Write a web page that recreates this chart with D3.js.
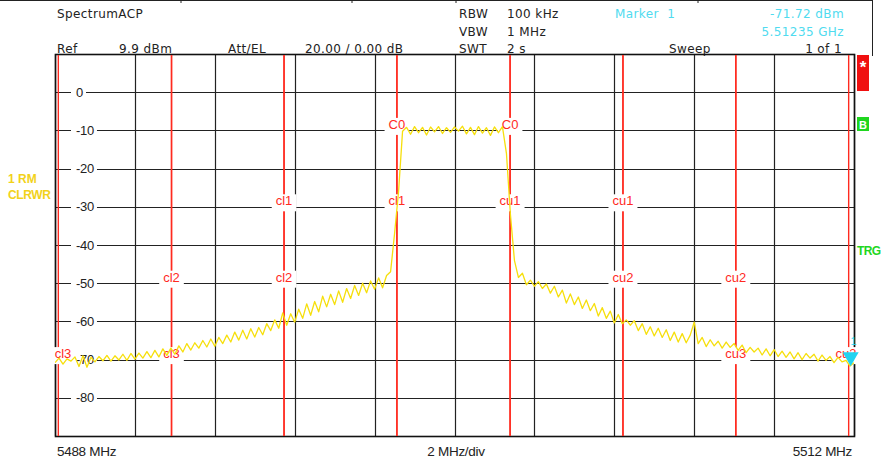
<!DOCTYPE html>
<html>
<head>
<meta charset="utf-8">
<script src="https://cdn.jsdelivr.net/npm/d3@7"></script>
<style>
  body { margin: 0; background: #fff; }
  .hdr { font-family: "DejaVu Sans", Verdana, sans-serif; font-size: 12px; letter-spacing: 0.4px; fill: #222; white-space: pre; }
  .lbl { font-family: "Liberation Sans", Arial, sans-serif; font-size: 13px; }
</style>
</head>
<body>
<div id="chart"></div>
<script>

/////////////////////////////
////////// data /////////////
/////////////////////////////

var spanStart = 5488, spanStop = 5512;       // MHz
var refLevel = 10, bottomLevel = -90;        // dB
var gridLevels = [0, -10, -20, -30, -40, -50, -60, -70, -80];
var gridDivs = 10;

// channel names, edges (MHz) and the grid row their labels sit on
var channelNames = ["cl3", "cl2", "cl1", "C0", "cu1", "cu2", "cu3"];
var channelLo    = [5488.10, 5491.50, 5494.88, 5498.27, 5501.67, 5505.06, 5508.45];
var channelHi    = [5491.50, 5494.88, 5498.27, 5501.67, 5505.06, 5508.45, 5511.84];
var channelRow   = [-70, -50, -30, -10, -30, -50, -70];

// sweep trace, 201 points from spanStart, 0.12 MHz apart (dBm)
var traceStep = 0.12;
var trace = [
  -70.8, -69.6, -71.2, -69.8, -70.4, -69.3, -71.8, -69.0, -72.0, -69.4,
  -70.6, -69.2, -70.3, -68.9, -70.4, -69.0, -70.1, -68.6, -70.2, -68.4,
  -69.9, -68.3, -69.6, -67.9, -69.5, -67.6, -69.3, -67.2, -68.9, -67.0,
  -68.6, -66.4, -68.0, -65.8, -67.5, -65.6, -67.0, -65.0, -66.7, -64.6,
  -66.5, -64.2, -65.8, -63.6, -65.4, -62.8, -64.9, -62.3, -64.6, -61.9,
  -64.1, -61.6, -63.5, -60.6, -62.4, -59.6, -61.8, -57.8, -61.0, -58.0,
  -60.2, -56.8, -59.2, -55.4, -58.4, -54.8, -57.5, -53.4, -56.2, -52.9,
  -55.6, -52.0, -55.0, -51.4, -54.0, -50.6, -53.2, -50.0, -52.5, -49.4,
  -51.6, -48.6, -51.2, -48.0, -47.0, -37.0, -26.0, -10.2, -9.2, -11.0,
  -9.0, -10.6, -9.2, -11.2, -9.1, -10.4, -9.0, -10.8, -9.3, -10.5,
  -9.1, -10.2, -8.9, -10.9, -9.2, -11.1, -9.0, -10.7, -9.3, -11.3,
  -9.1, -10.6, -9.0, -16.0, -32.0, -44.0, -48.5, -47.4, -50.4, -49.2,
  -50.8, -49.6, -51.4, -50.2, -52.6, -50.8, -53.6, -51.8, -55.2, -52.8,
  -55.6, -53.6, -56.6, -54.4, -57.2, -55.3, -58.6, -56.4, -59.2, -57.3,
  -60.4, -58.2, -60.6, -59.6, -61.0, -59.8, -62.4, -60.6, -63.4, -61.4,
  -63.8, -61.8, -64.2, -62.2, -65.0, -62.8, -65.4, -63.2, -65.6, -63.6,
  -60.2, -65.8, -64.2, -66.6, -64.8, -66.4, -65.2, -67.0, -65.4, -66.8,
  -65.8, -67.6, -66.2, -68.2, -66.8, -68.0, -67.0, -68.8, -67.2, -69.0,
  -67.4, -69.2, -67.8, -69.4, -68.0, -69.8, -68.2, -70.0, -68.4, -69.6,
  -68.6, -70.4, -68.8, -70.2, -69.2, -70.8, -69.4, -70.6, -70.2, -71.7,
  -70.8
];

// marker 1: where it is drawn, and what the readout says
var markerFreq = 5511.9, markerLevel = -71.72, markerReadGHz = 5.51235;

/////////////////////////////
////////// chart ////////////
/////////////////////////////

var W = 883, H = 458;
var plot = { left: 55, right: 854, top: 54, bottom: 436 };

var svg = d3.select("#chart")
    .append("svg")
    .attr("width", W)
    .attr("height", H);

var x = d3.scaleLinear().domain([spanStart, spanStop]).range([plot.left, plot.right]);
var y = d3.scaleLinear().domain([refLevel, bottomLevel]).range([plot.top, plot.bottom]);

// window frame remnant at the very top
svg.append("line").attr("x1", 0).attr("x2", 872).attr("y1", 0.5).attr("y2", 0.5)
    .attr("stroke", "#222");
[181, 352, 456, 698].forEach(function (px) {
    svg.append("line").attr("x1", px).attr("x2", px).attr("y1", 0).attr("y2", 3).attr("stroke", "#222")
});
svg.append("line").attr("x1", 872.5).attr("x2", 872.5).attr("y1", 0).attr("y2", 56).attr("stroke", "#222");

// header texts
function hdr(txt, px, py, anchor, color) {
    svg.append("text").attr("class", "hdr")
        .attr("x", px).attr("y", py)
        .attr("text-anchor", anchor || "start")
        .style("fill", color || "#222")
        .text(txt);
}
hdr("SpectrumACP", 57, 17.5);
hdr("Ref", 57, 52.5);
hdr("9.9 dBm", 119, 52.5);
hdr("Att/EL", 228, 52.5);
hdr("20.00 / 0.00 dB", 305, 52.5);
hdr("RBW", 459, 17.5);
hdr("100 kHz", 507, 17.5);
hdr("VBW", 459, 35.5);
hdr("1 MHz", 507, 35.5);
hdr("SWT", 459, 52.5);
hdr("2 s", 507, 52.5);
hdr("Sweep", 669, 52.5);
hdr("1 of 1", 842, 52.5, "end");
hdr("Marker  1", 615, 17.5, "start", "#4fdbef");
hdr(markerLevel.toFixed(2) + " dBm", 844, 17.5, "end", "#4fdbef");
hdr(markerReadGHz.toFixed(5) + " GHz", 844, 35.5, "end", "#4fdbef");

var g = svg.append("g");

// horizontal grid
g.selectAll(".hgrid")
    .data(gridLevels)
    .join("line")
    .attr("x1", plot.left).attr("x2", plot.right + 1)
    .attr("y1", function (d) { return Math.round(y(d)) + 0.5 })
    .attr("y2", function (d) { return Math.round(y(d)) + 0.5 })
    .attr("stroke", "#222").attr("stroke-width", 1.2);

// vertical grid
var xGrid = d3.range(gridDivs + 1).map(function (i) { return spanStart + i * (spanStop - spanStart) / gridDivs });
g.selectAll(".vgrid")
    .data(xGrid)
    .join("line")
    .attr("x1", function (d) { return Math.round(x(d)) + 0.5 })
    .attr("x2", function (d) { return Math.round(x(d)) + 0.5 })
    .attr("y1", plot.top).attr("y2", plot.bottom)
    .attr("stroke", "#222").attr("stroke-width", 1.2);

// frame
g.append("rect")
    .attr("x", plot.left + 0.5).attr("y", plot.top + 0.5)
    .attr("width", plot.right - plot.left).attr("height", plot.bottom - plot.top)
    .attr("fill", "none").attr("stroke", "#111").attr("stroke-width", 1.6);

// level labels inside the plot, with a white patch over the grid line
var yl = g.selectAll(".ylab").data(gridLevels).join("g");
yl.append("text")
    .attr("class", "lbl")
    .attr("x", 76)
    .attr("y", function (d) { return y(d) + 4.6 })
    .style("fill", "#222")
    .style("letter-spacing", "-0.3px")
    .text(function (d) { return d });
yl.each(function () {
    var t = d3.select(this).select("text").node().getBBox();
    d3.select(this).insert("rect", "text")
        .attr("x", t.x - 5).attr("y", t.y)
        .attr("width", t.width + 8).attr("height", t.height)
        .attr("fill", "#fff");
});

// channel edges (red)
var edges = channelLo.concat(channelHi);
g.selectAll(".edge")
    .data(edges)
    .join("line")
    .attr("x1", function (d) { return x(d) }).attr("x2", function (d) { return x(d) })
    .attr("y1", plot.top + 1).attr("y2", plot.bottom)
    .attr("stroke", "#ff2a1f").attr("stroke-width", 1.4);

// channel labels at both edges of each channel
var chLabels = [];
channelNames.forEach(function (n, i) {
    chLabels.push({ name: n, f: channelLo[i], row: channelRow[i] });
    chLabels.push({ name: n, f: channelHi[i], row: channelRow[i] });
});
var cl = g.selectAll(".chlab").data(chLabels).join("g");
cl.append("text")
    .attr("class", "lbl")
    .attr("x", function (d) { return Math.min(Math.max(x(d.f), plot.left + 8), plot.right - 8) })
    .attr("y", function (d) { return y(d.row) - 1.5 })
    .attr("text-anchor", "middle")
    .style("fill", "#ff2a1f")
    .text(function (d) { return d.name });
cl.each(function () {
    var t = d3.select(this).select("text").node().getBBox();
    d3.select(this).insert("rect", "text")
        .attr("x", t.x - 4).attr("y", t.y + 1)
        .attr("width", t.width + 8).attr("height", t.height + 2)
        .attr("fill", "#fff");
});

// trace
svg.append("clipPath").attr("id", "clip")
    .append("rect").attr("x", plot.left).attr("y", plot.top)
    .attr("width", plot.right - plot.left).attr("height", plot.bottom - plot.top);

var line = d3.line()
    .x(function (d, i) { return x(spanStart + i * traceStep) })
    .y(function (d) { return y(d) });

g.append("path")
    .datum(trace)
    .attr("clip-path", "url(#clip)")
    .attr("d", line)
    .attr("fill", "none")
    .attr("stroke", "#f6df0c")
    .attr("stroke-width", 1.3)
    .attr("stroke-linejoin", "round");

// marker 1
var mx = x(markerFreq), my = y(markerLevel);
g.append("path")
    .attr("d", "M" + (mx - 8) + "," + (my - 14) + "L" + (mx + 8) + "," + (my - 14) + "L" + mx + "," + my + "Z")
    .attr("fill", "#22d3f0");
g.append("text")
    .attr("class", "lbl")
    .attr("x", mx + 3).attr("y", my - 21)
    .attr("text-anchor", "middle")
    .style("font-size", "11px")
    .style("fill", "#22d3f0")
    .text("1");

// trace info on the left
svg.append("text").attr("class", "lbl")
    .attr("x", 8).attr("y", 183)
    .style("font-size", "12px").style("font-weight", "bold").style("fill", "#f2d21a")
    .text("1 RM");
svg.append("text").attr("class", "lbl")
    .attr("x", 8).attr("y", 199)
    .style("font-size", "12px").style("font-weight", "bold").style("fill", "#f2d21a")
    .style("letter-spacing", "-0.4px")
    .text("CLRWR");

// status flags on the right
svg.append("rect").attr("x", 857).attr("y", 55).attr("width", 12).attr("height", 36).attr("fill", "#f01010");
svg.append("text").attr("class", "lbl").attr("x", 863).attr("y", 73).attr("text-anchor", "middle")
    .style("font-size", "17px").style("font-weight", "bold").style("fill", "#fff").text("*");
svg.append("rect").attr("x", 857).attr("y", 117).attr("width", 12).attr("height", 14).attr("fill", "#1fd61f");
svg.append("text").attr("class", "lbl").attr("x", 863).attr("y", 128.5).attr("text-anchor", "middle")
    .style("font-size", "11px").style("font-weight", "bold").style("fill", "#fff").text("B");
svg.append("text").attr("class", "lbl").attr("x", 857).attr("y", 254.5)
    .style("font-size", "12px").style("font-weight", "bold").style("fill", "#22d622")
    .style("letter-spacing", "-0.6px")
    .text("TRG");

// bottom axis texts
svg.append("text").attr("class", "lbl").attr("x", 57).attr("y", 456)
    .style("font-size", "13.5px").style("fill", "#222").style("letter-spacing", "-0.3px")
    .text(spanStart + " MHz");
svg.append("text").attr("class", "lbl").attr("x", 456).attr("y", 456).attr("text-anchor", "middle")
    .style("font-size", "13.5px").style("fill", "#222").style("letter-spacing", "-0.3px")
    .text("2 MHz/div");
svg.append("text").attr("class", "lbl").attr("x", 852).attr("y", 456).attr("text-anchor", "end")
    .style("font-size", "13.5px").style("fill", "#222").style("letter-spacing", "-0.3px")
    .text(spanStop + " MHz");

</script>
</body>
</html>
